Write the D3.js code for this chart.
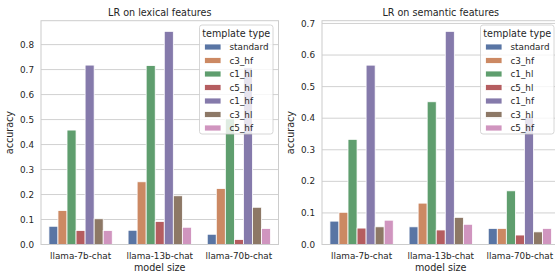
<!DOCTYPE html>
<html>
<head>
<meta charset="utf-8">
<script src="https://cdn.jsdelivr.net/npm/d3@7"></script>
<style>
  body { margin: 0; background: #fff; }
  text { font-family: "DejaVu Sans", sans-serif; fill: #262626; }
</style>
</head>
<body>
<svg id="chart" width="555" height="272"></svg>
<script>
// categories and series
var models = ["llama-7b-chat", "llama-13b-chat", "llama-70b-chat"];
var templates = ["standard", "c3_hf", "c1_hl", "c5_hl", "c1_hf", "c3_hl", "c5_hf"];
var colors = ["#5975a4", "#cc8963", "#5f9e6e", "#b55d60", "#857aab", "#8d7866", "#d095bf"];

// accuracy per template, ordered like models
var lexical = [
  [0.073, 0.057, 0.041],
  [0.136, 0.251, 0.224],
  [0.458, 0.716, 0.503],
  [0.056, 0.092, 0.020],
  [0.718, 0.853, 0.707],
  [0.103, 0.195, 0.149],
  [0.056, 0.069, 0.064]
];
var semantic = [
  [0.074, 0.056, 0.051],
  [0.102, 0.131, 0.051],
  [0.333, 0.452, 0.170],
  [0.052, 0.046, 0.030],
  [0.568, 0.675, 0.405],
  [0.056, 0.086, 0.040],
  [0.077, 0.064, 0.051]
];
var lexTicks = [0, 0.1, 0.2, 0.3, 0.4, 0.5, 0.6, 0.7, 0.8];
var semTicks = [0, 0.1, 0.2, 0.3, 0.4, 0.5, 0.6, 0.7];

var svg = d3.select("#chart");
var plotTop = 20.7, plotBottom = 244.5;

function drawPanel(left, right, title, values, ticks) {
  var g = svg.append("g");
  var ymax = d3.max(values, function(r) { return d3.max(r); }) * 1.05;

  var x = d3.scaleBand().domain(models).range([left, right]);
  var y = d3.scaleLinear().domain([0, ymax]).range([plotBottom, plotTop]);
  var inner = d3.scaleBand().domain(templates)
      .range([x.bandwidth() * 0.1, x.bandwidth() * 0.9]);

  // horizontal grid
  g.selectAll(".grid").data(ticks).enter().append("line")
      .attr("x1", left).attr("x2", right)
      .attr("y1", function(d) { return y(d); })
      .attr("y2", function(d) { return y(d); })
      .attr("stroke", "#cccccc").attr("stroke-width", 0.9);

  // bars
  templates.forEach(function(t, i) {
    g.selectAll(".bar" + i).data(values[i]).enter().append("rect")
        .attr("x", function(d, j) { return x(models[j]) + inner(t); })
        .attr("width", inner.bandwidth())
        .attr("y", function(d) { return y(d); })
        .attr("height", function(d) { return y(0) - y(d); })
        .attr("fill", colors[i])
        .attr("stroke", "#fff").attr("stroke-width", 0.8);
  });

  // frame
  g.append("rect")
      .attr("x", left).attr("y", plotTop)
      .attr("width", right - left).attr("height", plotBottom - plotTop)
      .attr("fill", "none").attr("stroke", "#cccccc").attr("stroke-width", 1);

  // y tick labels
  g.selectAll(".ytick").data(ticks).enter().append("text")
      .attr("x", left - 7).attr("y", function(d) { return y(d); })
      .attr("dy", "0.35em").attr("text-anchor", "end")
      .style("font-size", "8.8px")
      .text(function(d) { return d3.format(".1f")(d); });

  // x tick labels
  g.selectAll(".xtick").data(models).enter().append("text")
      .attr("x", function(d) { return x(d) + x.bandwidth() / 2; })
      .attr("y", 255.7).attr("dy", "0.35em").attr("text-anchor", "middle")
      .style("font-size", "8.8px")
      .text(function(d) { return d; });

  // labels and title
  g.append("text").attr("x", (left + right) / 2).attr("y", 267.5)
      .attr("dy", "0.35em").attr("text-anchor", "middle")
      .style("font-size", "9.6px").text("model size");
  g.append("text")
      .attr("transform", "translate(" + (left - 31) + "," + ((plotTop + plotBottom) / 2) + ") rotate(-90)")
      .attr("dy", "0.35em").attr("text-anchor", "middle")
      .style("font-size", "9.6px").text("accuracy");
  g.append("text").attr("x", (left + right) / 2).attr("y", 12.5)
      .attr("dy", "0.35em").attr("text-anchor", "middle")
      .style("font-size", "9.6px").text(title);

  // legend
  var lw = 73.5, lx = right - 5.5 - lw, ly = 25;
  var leg = g.append("g").attr("transform", "translate(" + lx + "," + ly + ")");
  leg.append("rect").attr("width", lw).attr("height", 109)
      .attr("rx", 2.5).attr("fill", "#fff").attr("fill-opacity", 0.8)
      .attr("stroke", "#cccccc").attr("stroke-width", 0.8);
  leg.append("text").attr("x", lw / 2).attr("y", 8.5).attr("dy", "0.35em")
      .attr("text-anchor", "middle").style("font-size", "9.6px").text("template type");
  var item = leg.selectAll(".item").data(templates).enter().append("g")
      .attr("transform", function(d, i) { return "translate(0," + (22 + i * 13.5) + ")"; });
  item.append("rect").attr("x", 5).attr("y", -3).attr("width", 16.5).attr("height", 6)
      .attr("fill", function(d, i) { return colors[i]; })
      .attr("stroke", "#fff").attr("stroke-width", 0.8);
  item.append("text").attr("x", 30).attr("dy", "0.35em")
      .style("font-size", "8.8px").text(function(d) { return d; });
}

drawPanel(41, 278.5, "LR on lexical features", lexical, lexTicks);
drawPanel(322, 559.5, "LR on semantic features", semantic, semTicks);
</script>
</body>
</html>
